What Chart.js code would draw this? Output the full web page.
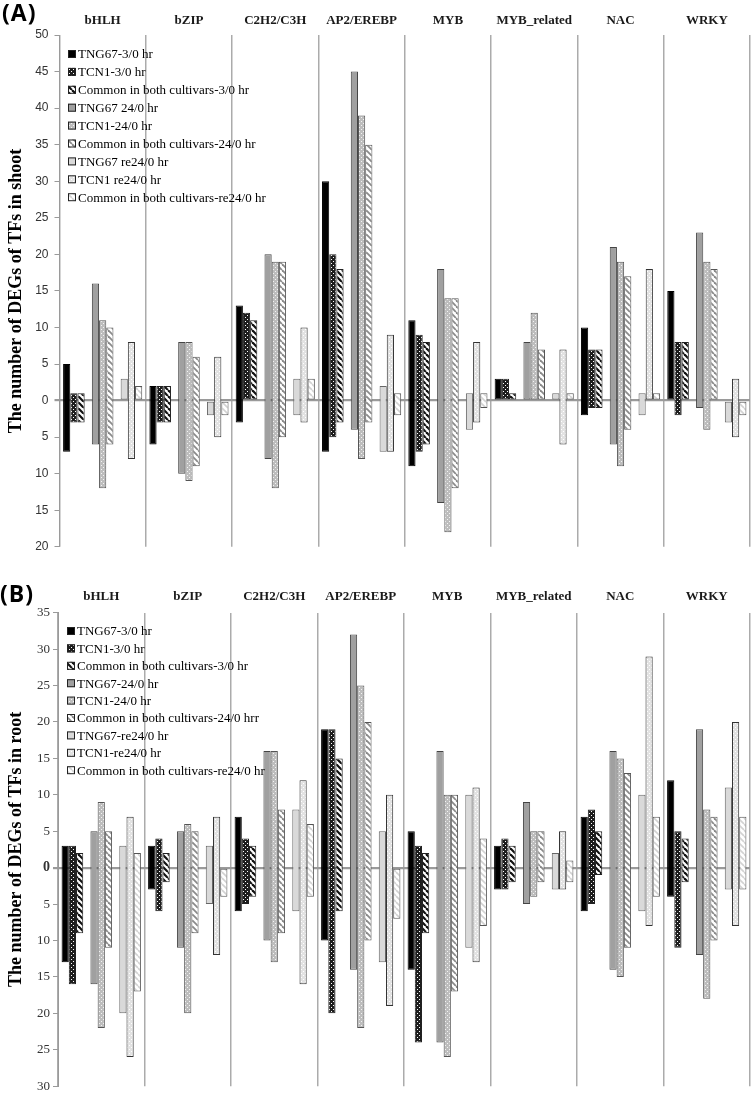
<!DOCTYPE html>
<html><head><meta charset="utf-8">
<script src="https://cdn.jsdelivr.net/npm/chart.js@4.4.1/dist/chart.umd.min.js"></script>
<style>
html,body{margin:0;padding:0;background:#fff;width:753px;height:1097px;overflow:hidden;}
#wrapA{position:absolute;left:0;top:0;width:753px;height:560px;}
#wrapB{position:absolute;left:0;top:560px;width:753px;height:537px;}
canvas{display:block;}
.panel{position:absolute;font-family:'Open Sans','Liberation Sans',sans-serif;font-weight:bold;font-size:23px;letter-spacing:1px;color:#000;line-height:26px;}
</style></head><body>
<div id="wrapA"><canvas id="chartA" width="753" height="560" style="width:753px;height:560px"></canvas></div>
<div id="wrapB"><canvas id="chartB" width="753" height="537" style="width:753px;height:537px"></canvas></div>
<div class="panel" style="left:2px;top:-1px">(A)</div>
<div class="panel" style="left:0px;top:580px">(B)</div>
<script>
// ---------------- DATA ----------------
const categories = ['bHLH','bZIP','C2H2/C3H','AP2/EREBP','MYB','MYB_related','NAC','WRKY'];

const shootLabels = ['TNG67-3/0 hr','TCN1-3/0 hr','Common in both cultivars-3/0 hr','TNG67 24/0 hr','TCN1-24/0 hr','Common in both cultivars-24/0 hr','TNG67 re24/0 hr','TCN1 re24/0 hr','Common in both cultivars-re24/0 hr'];
const rootLabels = ['TNG67-3/0 hr','TCN1-3/0 hr','Common in both cultivars-3/0 hr','TNG67-24/0 hr','TCN1-24/0 hr','Common in both cultivars-24/0 hrr','TNG67-re24/0 hr','TCN1-re24/0 hr','Common in both cultivars-re24/0 hr'];

// up-regulated counts (rows = series, cols = categories)
const shootUp = [
  [5,2,13,30,11,3,10,15],
  [1,2,12,20,9,3,7,8],
  [1,2,11,18,8,1,7,8],
  [16,8,20,45,18,8,21,23],
  [11,8,19,39,14,12,19,19],
  [10,6,19,35,14,7,17,18],
  [3,0,3,2,1,1,1,0],
  [8,6,10,9,8,7,18,3],
  [2,0,3,1,1,1,1,0]
];
// down-regulated counts (drawn below zero)
const shootDown = [
  [7,6,3,7,9,0,2,0],
  [3,3,0,5,7,0,1,2],
  [3,3,0,3,6,0,1,0],
  [6,10,8,4,14,0,6,1],
  [12,11,12,8,18,0,9,4],
  [6,9,5,3,12,0,4,0],
  [0,2,2,7,4,0,2,3],
  [8,5,3,7,3,6,0,5],
  [0,2,0,2,1,0,0,2]
];
const rootUp = [
  [3,3,7,19,5,3,7,12],
  [3,4,4,19,3,4,8,5],
  [2,2,3,15,2,3,5,4],
  [5,5,16,32,16,9,16,19],
  [9,6,16,25,10,5,15,8],
  [5,5,8,20,10,5,13,7],
  [3,3,8,5,10,2,10,11],
  [7,7,12,10,11,5,29,20],
  [2,0,6,0,4,1,7,7]
];
const rootDown = [
  [13,3,6,10,14,3,6,4],
  [16,6,5,20,24,3,5,11],
  [9,2,4,6,9,2,1,2],
  [16,11,10,14,24,5,14,12],
  [22,20,13,22,26,4,15,18],
  [11,9,9,10,17,2,11,10],
  [20,5,6,13,11,3,6,3],
  [26,12,16,19,13,3,8,8],
  [17,4,4,7,8,2,4,3]
];
const shootRange = [-20, 50];
const rootRange = [-30, 35];

// ---------------- STYLES ----------------
function pat(size, draw){
  const c=document.createElement('canvas'); c.width=c.height=size;
  const g=c.getContext('2d'); draw(g,size);
  return g.createPattern(c,'repeat');
}
function dots(bg, fg){
  return pat(4,(g)=>{g.fillStyle=bg;g.fillRect(0,0,4,4);g.fillStyle=fg;g.fillRect(1,1,1,1);g.fillRect(3,3,1,1);});
}
function stripes(bg, fg, w){
  return pat(6,(g,s)=>{g.fillStyle=bg;g.fillRect(0,0,s,s);g.strokeStyle=fg;g.lineWidth=w;
    for(let x=-s;x<=s;x+=s){g.beginPath();g.moveTo(x,0);g.lineTo(x+s,s);g.stroke();}});
}
const fills = [
  '#000000',
  dots('#1e1e1e','#ffffff'),
  stripes('#ffffff','#111111',2.2),
  '#a0a0a0',
  dots('#bdbdbd','#f4f4f4'),
  stripes('#ffffff','#8a8a8a',1.8),
  '#d9d9d9',
  dots('#e2e2e2','#ffffff'),
  stripes('#ffffff','#d2d2d2',1.6)
];
const borders = ['#000','#222','#222','#444','#555','#555','#666','#333','#555'];

function buildDatasets(up, down, labels){
  const ds=[];
  for(let i=0;i<9;i++){
    if(i===3||i===6){
      ds.push({label:'',data:categories.map(()=>0),backgroundColor:'rgba(0,0,0,0)',borderWidth:0,barPercentage:1,categoryPercentage:0.917,inLegend:false});
    }
    ds.push({
      label:labels[i],
      data:categories.map((c,j)=>[-down[i][j], up[i][j]]),
      backgroundColor:fills[i], borderColor:borders[i], borderWidth:1, borderSkipped:false,
      barPercentage:1, categoryPercentage:0.917, inLegend:true
    });
  }
  return ds;
}

const insideLegend = {
  id:'insideLegend',
  afterDatasetsDraw(chart, args, opts){
    const ctx=chart.ctx; ctx.save();
    ctx.font=opts.font; ctx.textBaseline='middle'; ctx.textAlign='left';
    let row=0;
    chart.data.datasets.forEach(ds=>{
      if(!ds.inLegend) return;
      const y=opts.y+row*opts.step;
      ctx.fillStyle=ds.backgroundColor; ctx.fillRect(opts.x,y-4,8,8);
      ctx.strokeStyle='#222'; ctx.lineWidth=1; ctx.strokeRect(opts.x+0.5,y-3.5,7,7);
      ctx.fillStyle='#000'; ctx.fillText(ds.label,opts.x+10,y+1);
      row++;
    });
    ctx.restore();
  }
};

function makeChart(id, up, down, labels, range, title, cfg){
  return new Chart(document.getElementById(id),{
    type:'bar',
    data:{labels:categories, datasets:buildDatasets(up,down,labels)},
    plugins:[insideLegend],
    options:{
      responsive:false, animation:false, devicePixelRatio:1,
      layout:{padding:{left:0,right:3,top:0,bottom:7}},
      plugins:{legend:{display:false},tooltip:{enabled:false},
        insideLegend:{x:cfg.lx,y:cfg.ly,step:cfg.ls,font:"13px 'Liberation Serif', serif"}},
      scales:{
        x:{position:'top',
          grid:{offset:true,color:'#ababab',lineWidth:1.5,drawTicks:false},
          border:{display:false},
          ticks:{font:{family:'Liberation Serif',weight:'bold',size:13},color:'#1a1a1a',padding:cfg.xpad,maxRotation:0,autoSkip:false},
          afterFit:(s)=>{s.height=cfg.xh;}
        },
        y:{min:range[0],max:range[1],z:1,
          ticks:{stepSize:5,callback:(v)=>Math.abs(v),color:'#333',padding:cfg.ypad,
            font:(ctx)=>(cfg.boldZero && ctx.tick && ctx.tick.value===0)?{family:'Liberation Serif',weight:'bold',size:14}:cfg.tickFont},
          grid:{color:(ctx)=>(ctx.tick&&ctx.tick.value===0)?'#9a9a9a':'rgba(0,0,0,0)',
                lineWidth:(ctx)=>(ctx.tick&&ctx.tick.value===0)?2.2:1,
                tickColor:'#9a9a9a',tickLength:5,drawTicks:true},
          border:{color:'#9a9a9a',width:1},
          title:{display:true,text:title,color:'#000',font:{family:'Liberation Serif',weight:'bold',size:18},padding:{top:6,bottom:2}},
          afterFit:(s)=>{s.width=cfg.yw;}
        }
      }
    }
  });
}

makeChart('chartA', shootUp, shootDown, shootLabels, shootRange, 'The number of DEGs of TFs in shoot',
  {lx:68,ly:54,ls:17.9,xh:35,xpad:7,ypad:6,yw:59.5,boldZero:false,tickFont:{family:'Liberation Sans',size:12}});
makeChart('chartB', rootUp, rootDown, rootLabels, rootRange, 'The number of DEGs of TFs in root',
  {lx:67,ly:71,ls:17.4,xh:52.7,xpad:8,ypad:3,yw:58,boldZero:true,tickFont:{family:'Liberation Serif',size:13}});
</script>
</body></html>
